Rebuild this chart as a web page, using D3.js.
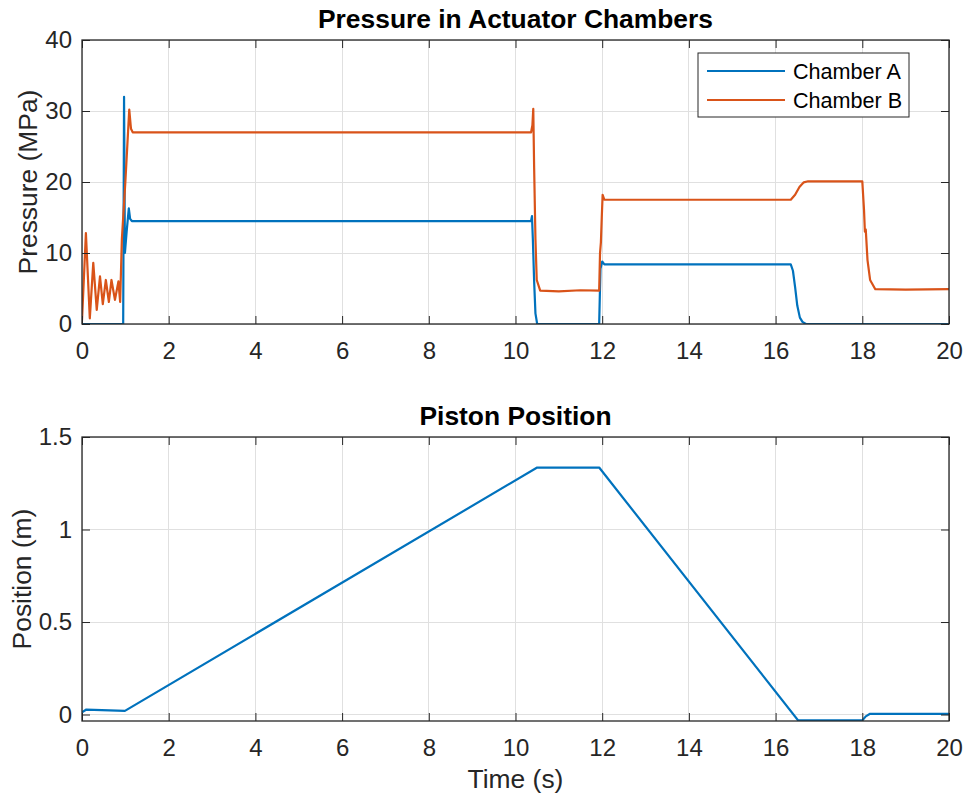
<!DOCTYPE html>
<html>
<head>
<meta charset="utf-8">
<script src="https://cdn.jsdelivr.net/npm/d3@7"></script>
<style>
  html, body { margin: 0; padding: 0; background: #ffffff; }
  svg { display: block; font-family: "Liberation Sans", Arial, Helvetica, sans-serif; }
</style>
</head>
<body>
<svg id="chart" width="966" height="800"></svg>
<script>
// ---------- data ----------
const xTicks = [0, 2, 4, 6, 8, 10, 12, 14, 16, 18, 20];
const pressureTicks = [0, 10, 20, 30, 40];
const positionTicks = [0, 0.5, 1, 1.5];
const positionTickLabels = ["0", "0.5", "1", "1.5"];
const seriesNames = ["Chamber A", "Chamber B"];

const timeA = [0, 0.95, 0.97, 0.99, 1.03, 1.08, 1.11, 1.15, 10.36, 10.38, 10.40, 10.43, 10.46, 10.50, 11.93, 11.96, 12.0, 12.05, 16.35, 16.40, 16.45, 16.50, 16.56, 16.62, 16.70, 20];
const pressureA = [0, 0, 32, 10, 13, 16.3, 14.8, 14.5, 14.5, 15.2, 12, 6, 1.5, 0, 0, 7.8, 8.8, 8.4, 8.4, 7.5, 5.2, 2.6, 0.9, 0.3, 0, 0];

const timeB = [0, 0.09, 0.18, 0.26, 0.34, 0.415, 0.48, 0.55, 0.62, 0.68, 0.76, 0.84, 0.88, 0.92, 1.0, 1.09, 1.13, 1.17, 10.36, 10.39, 10.41, 10.43, 10.46, 10.49, 10.57, 11.0, 11.5, 11.93, 11.95, 11.97, 11.99, 12.01, 12.05, 16.35, 16.45, 16.55, 16.65, 16.75, 18.0, 18.04, 18.06, 18.08, 18.12, 18.18, 18.3, 19.0, 20];
const pressureB = [0.5, 12.8, 0.8, 8.6, 2.0, 6.7, 2.8, 6.2, 3.1, 6.2, 3.4, 6.0, 3.1, 12, 20, 30.2, 27.5, 27, 27, 28, 30.3, 22, 12, 6.2, 4.7, 4.6, 4.75, 4.7, 10, 11.5, 15, 18.2, 17.5, 17.5, 18.2, 19.3, 19.95, 20.1, 20.1, 16, 13.0, 13.3, 9, 6.2, 4.9, 4.85, 4.9];

const timeP = [0, 0.1, 0.99, 10.5, 11.93, 16.52, 18.0, 18.08, 18.18, 20];
const position = [0.012, 0.027, 0.02, 1.335, 1.335, -0.032, -0.032, -0.01, 0.004, 0.004];

// ---------- style ----------
const colors = ["#0072BD", "#D95319"];
const axisColor = "#262626";
const gridColor = "#e0e0e0";
const tickFont = 24, labelFont = 26.4, legendFont = 21.6;

const svg = d3.select("#chart");
const left = 82, right = 949;

function panel(cfg) {
  const g = svg.append("g");
  const x = d3.scaleLinear().domain([0, 20]).range([left, right]);
  const y = d3.scaleLinear().domain(cfg.yDomain).range([cfg.bottom, cfg.top]);
  const clipId = "clip" + cfg.id;
  svg.append("clipPath").attr("id", clipId).append("rect")
    .attr("x", left).attr("y", cfg.top).attr("width", right - left).attr("height", cfg.bottom - cfg.top);

  // grid
  g.append("g").selectAll("line").data(xTicks).join("line")
    .attr("x1", d => x(d)).attr("x2", d => x(d)).attr("y1", cfg.top).attr("y2", cfg.bottom)
    .attr("stroke", gridColor).attr("stroke-width", 1).attr("shape-rendering", "crispEdges");
  g.append("g").selectAll("line").data(cfg.yTicks).join("line")
    .attr("y1", d => y(d)).attr("y2", d => y(d)).attr("x1", left).attr("x2", right)
    .attr("stroke", gridColor).attr("stroke-width", 1).attr("shape-rendering", "crispEdges");

  // lines
  const lineGen = d3.line().x(d => x(d[0])).y(d => y(d[1]));
  cfg.series.forEach((s, i) => {
    g.append("path").datum(s.t.map((t, k) => [t, s.v[k]]))
      .attr("d", lineGen).attr("fill", "none").attr("stroke", s.color)
      .attr("stroke-width", 2.2).attr("stroke-linejoin", "round")
      .attr("clip-path", `url(#${clipId})`);
  });

  // axes (ticks inward, box on)
  const tl = 8;
  const styleAxis = sel => {
    sel.select(".domain").remove();
    sel.selectAll(".tick line").attr("stroke", axisColor).attr("stroke-width", 1);
    sel.selectAll(".tick text").attr("fill", axisColor).attr("font-size", tickFont)
      .attr("font-family", "Liberation Sans, Arial, sans-serif");
  };
  const xb = g.append("g").attr("transform", `translate(0,${cfg.bottom})`)
    .call(d3.axisBottom(x).tickValues(xTicks).tickFormat(d3.format("d")).tickSizeInner(-tl).tickSizeOuter(0).tickPadding(18));
  styleAxis(xb);
  const xt = g.append("g").attr("transform", `translate(0,${cfg.top})`)
    .call(d3.axisTop(x).tickValues(xTicks).tickFormat("").tickSizeInner(-tl).tickSizeOuter(0));
  styleAxis(xt);
  const yl = g.append("g").attr("transform", `translate(${left},0)`)
    .call(d3.axisLeft(y).tickValues(cfg.yTicks).tickFormat((d, i) => cfg.yLabels[i]).tickSizeInner(-tl).tickSizeOuter(0).tickPadding(10));
  styleAxis(yl);
  const yr = g.append("g").attr("transform", `translate(${right},0)`)
    .call(d3.axisRight(y).tickValues(cfg.yTicks).tickFormat("").tickSizeInner(-tl).tickSizeOuter(0));
  styleAxis(yr);

  g.append("rect").attr("x", left).attr("y", cfg.top).attr("width", right - left).attr("height", cfg.bottom - cfg.top)
    .attr("fill", "none").attr("stroke", axisColor).attr("stroke-width", 1.3);

  // title
  g.append("text").attr("x", (left + right) / 2).attr("y", cfg.top - 12)
    .attr("text-anchor", "middle").attr("font-size", labelFont).attr("font-weight", "bold")
    .attr("fill", "#000").text(cfg.title);
  // y label
  g.append("text").attr("transform", `translate(${cfg.ylabelX},${(cfg.top + cfg.bottom) / 2}) rotate(-90)`)
    .attr("text-anchor", "middle").attr("font-size", labelFont).attr("fill", axisColor).text(cfg.ylabel);
  return { g, x, y };
}

const topPanel = panel({
  id: 1, top: 40, bottom: 324, yDomain: [0, 40], yTicks: pressureTicks,
  yLabels: pressureTicks.map(String), title: "Pressure in Actuator Chambers",
  ylabel: "Pressure (MPa)", ylabelX: 37,
  series: [
    { t: timeA, v: pressureA, color: colors[0] },
    { t: timeB, v: pressureB, color: colors[1] }
  ]
});

const bottomPanel = panel({
  id: 2, top: 437, bottom: 721, yDomain: [-0.035, 1.5], yTicks: positionTicks,
  yLabels: positionTickLabels, title: "Piston Position",
  ylabel: "Position (m)", ylabelX: 31,
  series: [{ t: timeP, v: position, color: colors[0] }]
});

// x label
svg.append("text").attr("x", (left + right) / 2).attr("y", 788)
  .attr("text-anchor", "middle").attr("font-size", labelFont).attr("fill", axisColor).text("Time (s)");

// legend
const lg = svg.append("g");
lg.append("rect").attr("x", 698).attr("y", 53).attr("width", 211).attr("height", 64)
  .attr("fill", "#fff").attr("stroke", axisColor).attr("stroke-width", 1);
seriesNames.forEach((name, i) => {
  const yy = 71 + i * 29;
  lg.append("line").attr("x1", 707).attr("x2", 785).attr("y1", yy).attr("y2", yy)
    .attr("stroke", colors[i]).attr("stroke-width", 2.2);
  lg.append("text").attr("x", 793).attr("y", yy + 7.5).attr("font-size", legendFont)
    .attr("fill", "#000").text(name);
});
</script>
</body>
</html>
